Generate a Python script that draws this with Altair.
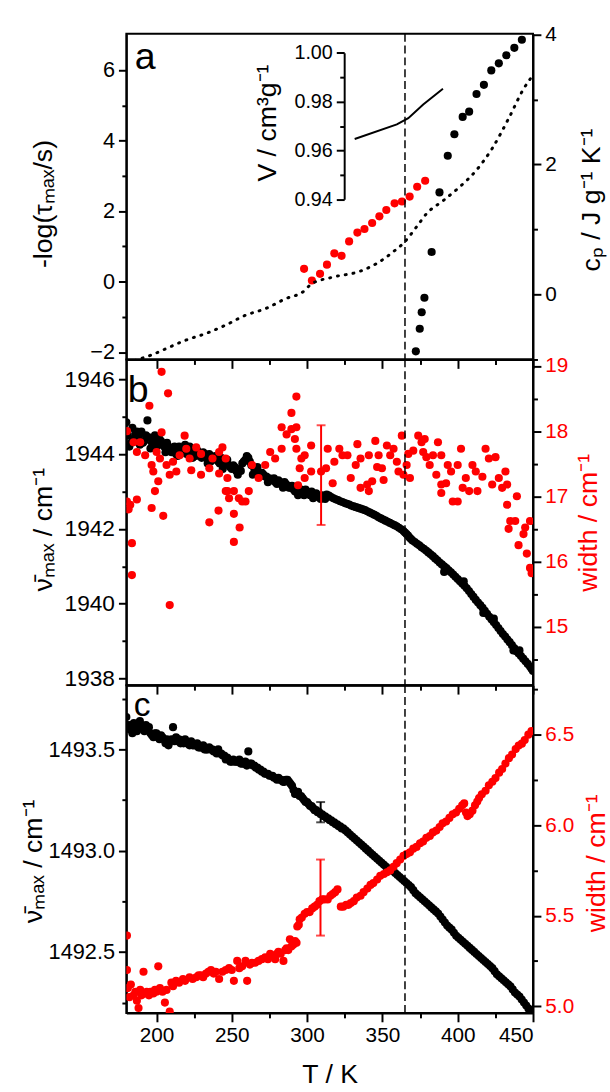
import altair as alt
import pandas as pd

FONT = "Liberation Sans"

# ---------------- panel a ----------------
a_black_T = [372.2, 374.8, 376.1, 377.9, 382.7, 387.9, 393.4, 397.8, 403.3, 407.6, 412.5, 417.4, 422.3, 427.3, 432.3, 437.6, 442.6]
a_black_v = [-1.98, -1.34, -0.87, -0.46, 0.84, 2.53, 3.57, 4.18, 4.67, 4.82, 5.32, 5.58, 5.99, 6.19, 6.42, 6.63, 6.86]
a_red_T = [298.0, 303.2, 308.6, 313.2, 318.1, 322.9, 327.9, 333.4, 338.1, 343.2, 348.0, 352.6, 358.1, 363.0, 368.1, 373.1, 378.4]
a_red_v = [0.36, 0.03, 0.22, 0.48, 0.80, 0.73, 1.14, 1.39, 1.49, 1.66, 1.85, 2.03, 2.22, 2.27, 2.41, 2.69, 2.86]
a_cp_T = [180.5, 189.2, 197.9, 206.7, 219.8, 232.9, 246.0, 259.1, 272.2, 285.3, 298.4, 302.7, 315.9, 335.5, 346.5, 357.4, 364.0, 372.7, 379.2, 390.2, 401.1, 412.0, 423.0, 433.9, 443.7, 449.2]
a_cp_v = [-1.055, -0.99, -0.92, -0.83, -0.70, -0.60, -0.47, -0.32, -0.22, -0.07, 0.06, 0.16, 0.26, 0.36, 0.48, 0.66, 0.79, 1.04, 1.24, 1.44, 1.65, 1.90, 2.25, 2.71, 3.16, 3.35]
inset_T = [331.6, 359.6, 367.2, 377.1, 390.2]
inset_V = [0.9647, 0.9707, 0.9732, 0.9788, 0.9853]

# ---------------- panel b ----------------
b_black_T = [180, 181, 182, 184, 186, 188, 190, 192, 194, 195, 197, 199, 201, 203, 205, 207, 209, 211, 213, 215,
             217, 219, 221, 223, 225, 227, 229, 231, 233, 235, 237, 239, 241, 243, 245, 247, 249, 251, 253, 255,
             257, 259, 261, 263, 265, 267, 269, 271, 273, 275, 277, 279, 281, 283, 285, 287, 289, 291, 293, 295,
             297, 299, 301, 303, 305, 307, 309, 311, 313, 316, 319, 322, 325, 328, 331, 334, 337, 340, 343, 346,
             349, 352, 355, 358, 361, 364, 366, 368, 370, 373, 376, 379, 382, 385, 388, 391, 394, 397, 400, 403,
             406, 409, 412, 415, 418, 421, 424, 427, 430, 433, 436, 439, 442, 445, 448, 450,
             183, 189, 196, 206, 214, 224, 234, 244, 254, 264, 274, 284, 294, 304,
             391, 404, 417, 424, 437, 441,
             185, 187, 191, 193, 198, 200, 202, 204, 208, 210, 212, 216, 218, 220, 222, 226, 228, 230, 232, 236,
             238, 240, 242, 246, 248, 250, 252, 256, 258, 260, 262, 266, 268, 270, 272, 276, 278, 280, 282, 286,
             288, 290, 292, 296, 298, 300, 302, 306, 308, 310, 312,
             314.5, 317.5, 320.5, 323.5, 326.5, 329.5, 332.5, 335.5, 338.5, 341.5, 344.5, 347.5, 350.5, 353.5, 356.5, 359.5,
             362.5, 365, 367, 369, 371.5, 374.5, 377.5, 380.5, 383.5, 386.5, 389.5, 392.5, 395.5, 398.5, 401.5, 404.5,
             407.5, 410.5, 413.5, 416.5, 419.5, 422.5, 425.5, 428.5, 431.5, 434.5, 437.5, 440.5, 443.5, 446.5, 449]
b_black_v = [1944.85, 1944.5, 1944.2, 1944.7, 1944.55, 1944.45, 1944.6, 1944.35, 1944.9, 1944.45, 1944.3, 1944.5, 1944.25, 1944.35, 1944.2, 1944.3, 1944.1, 1944.15, 1944.0, 1944.2,
             1944.1, 1944.25, 1944.05, 1944.15, 1944.0, 1944.1, 1943.95, 1944.05, 1943.9, 1944.0, 1943.85, 1943.95, 1943.8, 1943.9, 1943.75, 1943.85, 1943.65, 1943.7, 1943.55, 1943.6,
             1943.75, 1943.85, 1943.9, 1943.7, 1943.6, 1943.65, 1943.5, 1943.45, 1943.4, 1943.35, 1943.3, 1943.25, 1943.3, 1943.2, 1943.25, 1943.15, 1943.1, 1943.05, 1943.1, 1943.0,
             1942.95, 1943.05, 1942.95, 1943.0, 1942.85, 1942.9, 1942.8, 1942.85, 1942.92, 1942.85, 1942.79, 1942.74, 1942.69, 1942.65, 1942.6, 1942.56, 1942.52, 1942.47, 1942.41, 1942.35,
             1942.28, 1942.22, 1942.16, 1942.1, 1942.03, 1941.94, 1941.86, 1941.77, 1941.69, 1941.6, 1941.51, 1941.42, 1941.32, 1941.21, 1941.1, 1941.0, 1940.89, 1940.78, 1940.66, 1940.54,
             1940.41, 1940.26, 1940.1, 1939.96, 1939.81, 1939.65, 1939.5, 1939.35, 1939.19, 1939.04, 1938.89, 1938.73, 1938.6, 1938.46, 1938.32, 1938.2,
             1944.3, 1944.25, 1944.15, 1944.05, 1943.95, 1943.9, 1943.75, 1943.6, 1943.45, 1943.45, 1943.25, 1943.1, 1942.9, 1942.82,
             1940.85, 1940.6, 1939.75, 1939.6, 1938.75, 1938.75,
             1944.4, 1944.6, 1944.3, 1944.5, 1944.4, 1944.2, 1944.4, 1944.25, 1944.2, 1944.05, 1944.2, 1944.05, 1944.15, 1944.0, 1944.2, 1943.95, 1944.05, 1943.9, 1944.0, 1943.8,
             1943.9, 1943.85, 1943.75, 1943.8, 1943.7, 1943.6, 1943.65, 1943.55, 1943.8, 1943.95, 1943.8, 1943.55, 1943.5, 1943.5, 1943.4, 1943.3, 1943.35, 1943.2, 1943.25, 1943.2,
             1943.1, 1943.15, 1943.0, 1943.05, 1942.9, 1943.0, 1942.9, 1942.95, 1942.85, 1942.9, 1942.8,
             1942.89, 1942.82, 1942.77, 1942.72, 1942.67, 1942.62, 1942.58, 1942.54, 1942.5, 1942.44, 1942.38, 1942.31, 1942.25, 1942.19, 1942.13, 1942.07,
             1941.99, 1941.9, 1941.82, 1941.73, 1941.65, 1941.56, 1941.47, 1941.37, 1941.27, 1941.16, 1941.05, 1940.95, 1940.84, 1940.72, 1940.6, 1940.48,
             1940.34, 1940.18, 1940.03, 1939.89, 1939.73, 1939.58, 1939.43, 1939.27, 1939.12, 1938.97, 1938.81, 1938.67, 1938.53, 1938.39, 1938.26]
b_red_T = [203.4, 207.7, 195.3, 203.4, 180.4, 184.8, 189.2, 187.0, 192.5, 196.8, 200.1, 197.9, 202.3, 206.7, 211.0, 208.8, 213.2, 215.4, 218.7, 219.8,
           222.0, 223.1, 226.4, 229.6, 229.6, 235.1, 237.2, 241.6, 243.8, 246.0, 241.6, 247.1, 247.1, 251.4, 254.7, 259.1, 261.3, 263.4, 267.8, 272.2,
           275.5, 278.8, 283.1, 283.1, 286.4, 289.6, 292.9, 289.6, 292.9, 291.9, 292.9, 296.2, 295.1, 298.4, 302.7, 294.0, 298.4, 302.7, 309.3, 312.6,
           180.4, 182.6, 187.0, 196.8, 204.5, 199.0, 201.2, 183.7, 183.7, 208.8, 235.1, 241.2, 251.4, 251.4, 255.2, 246.0, 248.2, 256.9, 181.5,
           313.7, 317.0, 318.1, 321.4, 323.5, 326.8, 329.0, 332.3, 333.4, 335.5, 335.5, 339.9, 341.0, 341.0, 343.2, 345.3, 347.5, 346.5, 349.7, 350.8,
           353.0, 355.2, 357.4, 359.6, 360.7, 362.9, 364.0, 366.1, 368.3, 367.2, 370.5, 373.8, 376.0, 378.1, 377.1, 379.2, 381.4, 383.6, 385.8, 386.9,
           389.1, 389.1, 389.1, 392.3, 393.4, 395.6, 396.7, 400.0, 400.0, 402.2, 403.3, 405.4, 407.6, 409.8, 412.0, 413.1, 416.4, 418.5, 420.7, 422.9,
           425.1, 427.3, 429.5, 431.7, 432.8, 432.8, 434.9, 433.8, 439.3, 438.2, 440.4, 443.7, 444.8, 445.9, 448.0, 448.0, 449.1]
b_red_v = [18.91, 18.58, 18.39, 17.98, 18.00, 17.83, 17.83, 17.68, 17.63, 17.48, 17.68, 17.38, 17.58, 17.48, 17.53, 17.33, 17.38, 17.63, 17.93, 17.73,
           17.58, 17.40, 17.75, 17.65, 17.33, 17.43, 17.58, 17.68, 17.75, 17.58, 17.35, 17.28, 17.08, 17.08, 16.97, 16.92, 17.08, 17.48, 17.28, 17.48,
           17.68, 17.58, 17.73, 18.06, 17.95, 18.03, 18.06, 18.28, 18.53, 17.88, 17.73, 17.58, 17.43, 17.63, 17.78, 17.17, 17.28, 17.38, 17.38, 17.43,
           16.92, 16.87, 16.95, 16.82, 16.70, 17.08, 17.23, 16.28, 15.79, 15.33, 16.60, 16.78, 16.30, 16.73, 16.52, 17.08, 16.97, 16.92, 16.80,
           17.73, 17.20, 17.53, 17.73, 17.63, 17.63, 17.28, 17.48, 17.80, 17.58, 17.13, 17.18, 17.08, 17.63, 17.23, 17.85, 17.63, 17.45, 17.43, 17.25,
           17.78, 17.63, 17.73, 17.53, 17.38, 17.93, 17.33, 17.48, 17.28, 17.65, 17.70, 17.93, 17.83, 17.88, 17.68, 17.60, 17.48, 17.63, 17.33, 17.83,
           17.63, 17.18, 17.05, 17.20, 17.48, 17.38, 16.92, 16.92, 17.48, 17.73, 17.13, 17.28, 17.08, 17.48, 17.38, 17.08, 17.30, 17.73, 17.58, 17.18,
           17.60, 17.28, 17.13, 17.38, 17.18, 16.87, 16.62, 16.50, 17.00, 16.62, 16.25, 16.42, 16.52, 16.12, 16.62, 15.90, 15.82]
b_err_T = [309.3]
b_err_lo = [16.56]
b_err_hi = [18.09]

# ---------------- panel c ----------------
c_black_T = [180, 181, 182, 184, 186, 188, 189, 191, 193, 195, 197, 199, 201, 203, 205, 207, 208, 210, 211, 213,
             215, 217, 219, 221, 223, 225, 227, 229, 231, 233, 235, 237, 239, 241, 243, 245, 247, 249, 251, 253,
             255, 257, 259, 261, 263, 265, 267, 269, 271, 273, 275, 277, 279, 281, 283, 285, 287, 289, 291, 292,
             294, 296, 298, 300, 302, 304, 306, 308, 310, 312, 314, 316, 318, 320, 322, 324, 327, 330, 333, 336,
             339, 342, 345, 348, 351, 354, 357, 360, 363, 366, 369, 372, 375, 378, 381, 384, 387, 390, 393, 396,
             399, 402, 405, 408, 411, 414, 417, 420, 423, 426, 429, 432, 435, 438, 441, 444, 447, 450,
             183, 185, 187, 190, 192, 194, 196, 198, 200, 202, 204, 206, 209, 212, 214, 216, 218, 220, 222, 224,
             226, 228, 230, 232, 234, 236, 238, 240, 242, 244, 246, 248, 250, 252, 254, 256, 258, 260, 262, 264,
             266, 268, 270, 272, 274, 276, 278, 280, 282, 284, 286, 288, 290, 293, 295, 297, 299, 301, 303, 305,
             307, 309, 311, 313, 315, 317, 319, 321, 323,
             325.5, 328.5, 331.5, 334.5, 337.5, 340.5, 343.5, 346.5, 349.5, 352.5, 355.5, 358.5, 361.5, 364.5, 367.5, 370.5,
             373.5, 376.5, 379.5, 382.5, 385.5, 388.5, 391.5, 394.5, 397.5, 400.5, 403.5, 406.5, 409.5, 412.5, 415.5, 418.5,
             421.5, 424.5, 427.5, 430.5, 433.5, 436.5, 439.5, 442.5, 445.5, 448.5]
c_black_v = [1493.66, 1493.62, 1493.60, 1493.58, 1493.60, 1493.62, 1493.64, 1493.60, 1493.62, 1493.61, 1493.57, 1493.58, 1493.56, 1493.57, 1493.55, 1493.55, 1493.52, 1493.55, 1493.61, 1493.56,
             1493.55, 1493.54, 1493.55, 1493.53, 1493.54, 1493.52, 1493.53, 1493.51, 1493.52, 1493.50, 1493.51, 1493.50, 1493.49, 1493.50, 1493.48, 1493.47, 1493.46, 1493.44, 1493.45, 1493.44,
             1493.45, 1493.43, 1493.44, 1493.49, 1493.43, 1493.42, 1493.41, 1493.40, 1493.39, 1493.38, 1493.37, 1493.37, 1493.36, 1493.36, 1493.35, 1493.34, 1493.35, 1493.33, 1493.30, 1493.28,
             1493.29, 1493.27, 1493.25, 1493.24, 1493.22, 1493.21, 1493.20, 1493.19, 1493.18, 1493.17, 1493.16, 1493.15, 1493.14, 1493.13, 1493.12, 1493.11, 1493.09, 1493.07, 1493.05, 1493.03,
             1493.01, 1492.99, 1492.97, 1492.95, 1492.93, 1492.91, 1492.90, 1492.88, 1492.86, 1492.84, 1492.82, 1492.79, 1492.77, 1492.75, 1492.73, 1492.71, 1492.69, 1492.66, 1492.63, 1492.61,
             1492.58, 1492.56, 1492.54, 1492.52, 1492.50, 1492.48, 1492.46, 1492.44, 1492.42, 1492.39, 1492.37, 1492.35, 1492.33, 1492.30, 1492.28, 1492.25, 1492.22, 1492.20,
             1493.62, 1493.63, 1493.59, 1493.62, 1493.59, 1493.60, 1493.58, 1493.56, 1493.58, 1493.55, 1493.56, 1493.53, 1493.54, 1493.54, 1493.54, 1493.53, 1493.53, 1493.53, 1493.52, 1493.52,
             1493.52, 1493.51, 1493.51, 1493.50, 1493.50, 1493.50, 1493.49, 1493.48, 1493.48, 1493.47, 1493.45, 1493.45, 1493.44, 1493.44, 1493.44, 1493.43, 1493.43, 1493.42, 1493.43, 1493.42,
             1493.41, 1493.40, 1493.39, 1493.38, 1493.38, 1493.37, 1493.36, 1493.35, 1493.35, 1493.34, 1493.35, 1493.34, 1493.32, 1493.28, 1493.27, 1493.26, 1493.24, 1493.23, 1493.22, 1493.20,
             1493.19, 1493.18, 1493.17, 1493.16, 1493.15, 1493.14, 1493.13, 1493.12, 1493.11,
             1493.10, 1493.08, 1493.06, 1493.04, 1493.02, 1493.00, 1492.98, 1492.96, 1492.94, 1492.92, 1492.905, 1492.89, 1492.87, 1492.85, 1492.83, 1492.805,
             1492.78, 1492.76, 1492.74, 1492.72, 1492.70, 1492.675, 1492.645, 1492.62, 1492.595, 1492.57, 1492.55, 1492.53, 1492.51, 1492.49, 1492.47, 1492.45,
             1492.43, 1492.405, 1492.38, 1492.36, 1492.34, 1492.315, 1492.29, 1492.265, 1492.235, 1492.21]
c_red_T = [180.4, 180.4, 181, 182, 183, 184.8, 186, 187, 188.1, 189.2, 190, 191.4, 192, 193.5, 195, 196, 197.9, 199, 200, 201.2,
           202.3, 204, 205.6, 206.7, 208.8, 209.9, 211, 213, 215, 217.6, 219, 222, 224, 226.4, 228, 229.6, 231, 232.9, 234.5, 236.2,
           238, 239.4, 241.6, 243.8, 246, 248.2, 250, 251.4, 253.6, 255, 256.9, 259.1, 260.2, 262, 263.4, 265.5, 267.8, 270, 272.2, 274,
           275.5, 277, 278.8, 280, 281, 282.5, 284.3, 285.5, 286.4, 287.5, 288.6, 289.5, 290.8, 292, 293, 293.5, 294.5, 295.1, 296.5, 298.4,
           300, 301.7, 303.4, 305, 306.6, 308.2, 310, 311.5, 313.7, 315.5, 317, 318.6, 320.2,
           322.4, 324, 326, 327.5, 329, 331, 333, 335.5, 337.5, 340, 342.1, 344, 346.5, 348.6, 351, 353, 355.2, 357.4, 359.5, 361.8,
           364, 366, 368.3, 370.5, 372.7, 375, 377, 379.2, 381.5, 383.5, 385.8, 388, 390, 392.3, 394.5, 396.7, 398.9, 401, 403, 404.3,
           405.5, 406.5, 408, 409.8, 411.5, 413, 414.2, 416, 418.5, 420.7, 423, 425.1, 427.5, 429.5, 431.7, 434, 436.1, 438.5, 440.5, 442.6,
           444.5, 446.9, 449]
c_red_v = [5.39, 5.20, 5.10, 5.05, 5.12, 5.06, 5.08, 5.03, 4.99, 5.09, 5.06, 5.19, 5.07, 5.08, 5.06, 5.08, 5.07, 5.09, 5.08, 5.22,
           5.10, 5.08, 5.02, 5.09, 4.97, 5.13, 5.11, 5.14, 5.13, 5.15, 5.14, 5.16, 5.15, 5.16, 5.17, 5.17, 5.16, 5.18, 5.19, 5.20,
           5.18, 5.19, 5.15, 5.19, 5.20, 5.21, 5.20, 5.14, 5.25, 5.21, 5.22, 5.25, 5.14, 5.23, 5.24, 5.24, 5.25, 5.26, 5.27, 5.26,
           5.29, 5.28, 5.26, 5.29, 5.30, 5.29, 5.25, 5.31, 5.32, 5.31, 5.37, 5.33, 5.34, 5.36, 5.35, 5.44, 5.45, 5.48, 5.49, 5.51,
           5.52, 5.52, 5.54, 5.55, 5.56, 5.58, 5.59, 5.59, 5.59, 5.61, 5.62, 5.63, 5.645,
           5.55, 5.55, 5.56, 5.56, 5.57, 5.58, 5.60, 5.61, 5.63, 5.65, 5.67, 5.68, 5.70, 5.72, 5.73, 5.74, 5.75, 5.77, 5.79, 5.81,
           5.83, 5.84, 5.85, 5.87, 5.88, 5.90, 5.91, 5.93, 5.94, 5.96, 5.97, 5.99, 6.01, 6.02, 6.04, 6.06, 6.07, 6.09, 6.11, 6.12,
           6.07, 6.05, 6.06, 6.08, 6.11, 6.13, 6.15, 6.17, 6.19, 6.22, 6.24, 6.26, 6.29, 6.31, 6.34, 6.37, 6.39, 6.42, 6.44, 6.45,
           6.47, 6.50, 6.52]
c_err_red_T = [308.9]
c_err_red_lo = [5.39]
c_err_red_hi = [5.81]
c_err_blk_T = [309.0]
c_err_blk_lo = [1493.14]
c_err_blk_hi = [1493.24]

T_DASH = [365]
X_TICKS = [200, 225, 250, 275, 300, 325, 350, 375, 400, 425, 450]

# ---------------- helpers ----------------
W = 412
XSCALE = alt.Scale(domain=[180, 450], nice=False, zero=False)


def x_enc(last):
    if last:
        ax = alt.Axis(values=X_TICKS, format="d",
                      labelExpr="datum.value % 50 === 0 ? datum.label : ''",
                      tickSize={"condition": {"test": "datum.value % 50 === 0", "value": 9}, "value": 5},
                      labelFontSize=21, labelPadding=3, title="T / K", titleFontSize=27,
                      titleX=206, titleY=71, titleAlign="center", titleBaseline="alphabetic")
    else:
        ax = alt.Axis(values=X_TICKS, labels=False, title=None,
                      tickSize={"condition": {"test": "datum.value % 50 === 0", "value": 9}, "value": 5})
    return alt.X("T:Q", scale=XSCALE, axis=ax)


def y_axis(orient, values, test, fmt, title, tx, ty, color="black", lsize=21, offset=0, major=8, minor=4.5):
    kw = dict(orient=orient, values=values, format=fmt,
              labelExpr="(" + test + ") ? datum.label : ''",
              tickSize={"condition": {"test": test, "value": major}, "value": minor},
              labelColor=color, labelFontSize=lsize, labelPadding=4, labelOverlap=False,
              title=title, titleColor=color, titleX=tx, titleY=ty, titleAngle=270,
              titleAlign="center", titleBaseline="middle")
    if offset:
        kw["offset"] = offset
    return alt.Axis(**kw)


def dash_rule(last):
    return alt.Chart(pd.DataFrame({"T": T_DASH})).mark_rule(
        color="black", strokeDash=[8, 4], strokeWidth=1.5).encode(x=x_enc(last))


def letter(txt, x, y, size):
    return alt.Chart(pd.DataFrame({"t": [txt]})).mark_text(
        align="left", baseline="alphabetic", fontSize=size, font=FONT, color="black").encode(
        text="t:N", x=alt.value(x), y=alt.value(y))


def errbar(Ts, lo, hi, yscale, yaxis, color, last):
    df = pd.DataFrame({"T": Ts, "lo": lo, "hi": hi})
    rule = alt.Chart(df).mark_rule(color=color, strokeWidth=2).encode(
        x=x_enc(last), y=alt.Y("lo:Q", scale=yscale, axis=yaxis), y2="hi:Q")
    cap_lo = alt.Chart(df).mark_tick(color=color, orient="horizontal", size=9, thickness=2).encode(
        x=x_enc(last), y=alt.Y("lo:Q", scale=yscale, axis=yaxis))
    cap_hi = alt.Chart(df).mark_tick(color=color, orient="horizontal", size=9, thickness=2).encode(
        x=x_enc(last), y=alt.Y("hi:Q", scale=yscale, axis=yaxis))
    return [rule, cap_lo, cap_hi]


PT = 68

# ---------------- panel a ----------------
a_left_scale = alt.Scale(domain=[-2.21, 7.03], nice=False, zero=False)
a_left_axis = y_axis("left", [-2, -1, 0, 1, 2, 3, 4, 5, 6], "datum.value % 2 === 0", "d",
                     "-log(τₘₐₓ/s)", -84, 172, lsize=22)
a_right_scale = alt.Scale(domain=[-1.0, 4.01], nice=False, zero=False)
a_right_axis = y_axis("right", [-1, 0, 1, 2, 3, 4], "datum.value % 2 === 0", "d",
                      "cₚ / J g⁻¹ K⁻¹", 59, 168)
inset_scale = alt.Scale(domain=[0.94, 1.0], range=[167.7, 19.3], nice=False, zero=False)
inset_axis = y_axis("left", [0.94, 0.95, 0.96, 0.97, 0.98, 0.99, 1.0],
                    "round(datum.value * 100) % 2 === 0", ".2f",
                    "V / cm³g⁻¹", -78, 90, lsize=20, offset=-220.7)

dfa = pd.DataFrame({"T": a_black_T + a_red_T, "v": a_black_v + a_red_v,
                    "s": ["k"] * len(a_black_T) + ["r"] * len(a_red_T)})
a_pts = alt.Chart(dfa).mark_circle(size=PT, opacity=1, clip=True).encode(
    x=x_enc(False), y=alt.Y("v:Q", scale=a_left_scale, axis=a_left_axis),
    color=alt.Color("s:N", scale=alt.Scale(domain=["k", "r"], range=["black", "red"]), legend=None))
a_cp = alt.Chart(pd.DataFrame({"T": a_cp_T, "v": a_cp_v})).mark_line(
    color="black", strokeWidth=3, strokeDash=[1, 7], strokeCap="round", interpolate="monotone", clip=True).encode(
    x=x_enc(False), y=alt.Y("v:Q", scale=a_right_scale, axis=a_right_axis))
a_inset = alt.Chart(pd.DataFrame({"T": inset_T, "v": inset_V})).mark_line(
    color="black", strokeWidth=2).encode(
    x=x_enc(False), y=alt.Y("v:Q", scale=inset_scale, axis=inset_axis))
panel_a = alt.layer(
    alt.layer(a_pts, letter("a", 8.5, 36, 38)), a_cp, a_inset, dash_rule(False)
).resolve_scale(y="independent").properties(width=W, height=330)

# ---------------- panel b ----------------
b_left_scale = alt.Scale(domain=[1937.82, 1946.53], nice=False, zero=False)
b_left_axis = y_axis("left", list(range(1938, 1947)), "datum.value % 2 === 0", "d",
                     "ν̄ₘₐₓ / cm⁻¹", -84, 172, lsize=23)
b_right_scale = alt.Scale(domain=[14.10, 19.10], nice=False, zero=False)
b_right_axis = y_axis("right", [14.5, 15.0, 15.5, 16.0, 16.5, 17.0, 17.5, 18.0, 18.5, 19.0],
                      "round(datum.value) === datum.value", ".0f",
                      "width / cm⁻¹", 56, 165, color="red")
b_blk = alt.Chart(pd.DataFrame({"T": b_black_T, "v": b_black_v})).mark_circle(
    size=PT, opacity=1, color="black", clip=True).encode(
    x=x_enc(False), y=alt.Y("v:Q", scale=b_left_scale, axis=b_left_axis))
b_red = alt.Chart(pd.DataFrame({"T": b_red_T, "v": b_red_v})).mark_circle(
    size=PT, opacity=1, color="red", clip=True).encode(
    x=x_enc(False), y=alt.Y("v:Q", scale=b_right_scale, axis=b_right_axis))
panel_b = alt.layer(
    alt.layer(b_blk, letter("b", 1.5, 42.7, 38)),
    alt.layer(b_red, *errbar(b_err_T, b_err_lo, b_err_hi, b_right_scale, b_right_axis, "red", False)),
    dash_rule(False)
).resolve_scale(y="independent").properties(width=W, height=330)

# ---------------- panel c ----------------
c_left_scale = alt.Scale(domain=[1492.199, 1493.817], nice=False, zero=False)
c_left_axis = y_axis("left", [1492.25, 1492.5, 1492.75, 1493.0, 1493.25, 1493.5, 1493.75],
                     "datum.value % 0.5 === 0", ".1f", "ν̄ₘₐₓ / cm⁻¹", -94, 178, lsize=22)
c_right_scale = alt.Scale(domain=[4.963, 6.773], nice=False, zero=False)
c_right_axis = y_axis("right", [5.0, 5.25, 5.5, 5.75, 6.0, 6.25, 6.5, 6.75], "datum.value % 0.5 === 0", ".1f",
                      "width / cm⁻¹", 64, 180, color="red")
c_blk = alt.Chart(pd.DataFrame({"T": c_black_T, "v": c_black_v})).mark_circle(
    size=PT, opacity=1, color="black", clip=True).encode(
    x=x_enc(True), y=alt.Y("v:Q", scale=c_left_scale, axis=c_left_axis))
c_red = alt.Chart(pd.DataFrame({"T": c_red_T, "v": c_red_v})).mark_circle(
    size=PT, opacity=1, color="red", clip=True).encode(
    x=x_enc(True), y=alt.Y("v:Q", scale=c_right_scale, axis=c_right_axis))
panel_c = alt.layer(
    alt.layer(c_blk, *errbar(c_err_blk_T, c_err_blk_lo, c_err_blk_hi, c_left_scale, c_left_axis, "black", True),
              letter("c", 7.6, 30.7, 34)),
    alt.layer(c_red, *errbar(c_err_red_T, c_err_red_lo, c_err_red_hi, c_right_scale, c_right_axis, "red", True)),
    dash_rule(True)
).resolve_scale(y="independent").properties(width=W, height=332)

chart = alt.vconcat(panel_a, panel_b, panel_c, spacing=0, bounds="flush").properties(
    padding={"left": 19, "top": 15, "right": 0, "bottom": 0}
).configure_view(stroke="black", strokeWidth=2).configure_axis(
    labelFont=FONT, titleFont=FONT, titleFontSize=27, titleFontWeight="normal",
    domainColor="black", domainWidth=2, tickColor="black", tickWidth=2, grid=False,
    labelColor="black", titleColor="black", labelOverlap=False
)

chart.save("out.html", embed_options={"renderer": "svg", "actions": False})
